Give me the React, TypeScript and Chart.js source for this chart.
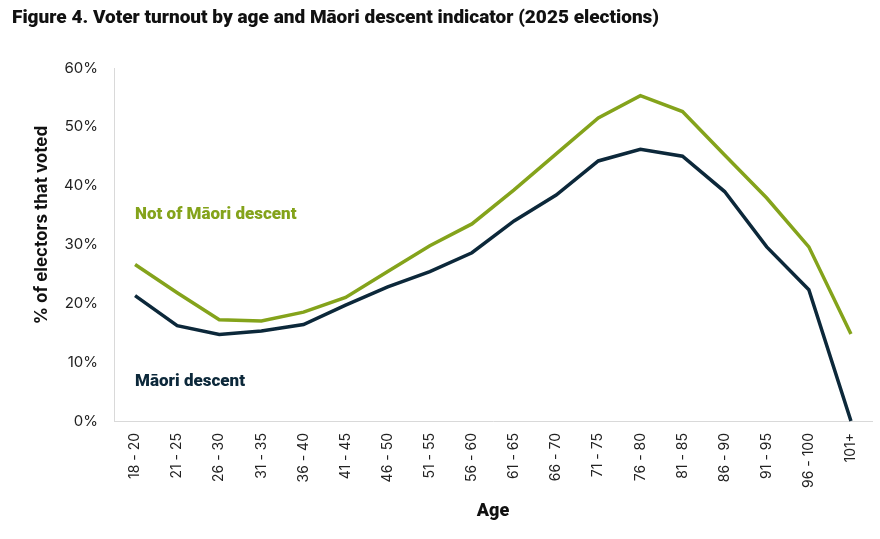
import { useEffect, useRef } from 'react';
import { Chart, registerables, type ChartConfiguration, type Plugin } from 'chart.js';

Chart.register(...registerables);

// ── Design tokens ──────────────────────────────────────────────────────────────

const C = {
  green:  '#84a31b',
  navy:   '#0c283a',
  text:   '#111111',
  tick:   '#222222',
  axis:   '#d9d9d9',
} as const;

// ── Data ───────────────────────────────────────────────────────────────────────

const AGE_GROUPS = [
  '18 - 20', '21 - 25', '26 - 30', '31 - 35', '36 - 40', '41 - 45',
  '46 - 50', '51 - 55', '56 - 60', '61 - 65', '66 - 70', '71 - 75',
  '76 - 80', '81 - 85', '86 - 90', '91 - 95', '96 - 100', '101+',
];

const NOT_MAORI = [
  26.6, 21.8, 17.2, 17.0, 18.5, 21.0, 25.4, 29.8, 33.5,
  39.3, 45.4, 51.5, 55.3, 52.6, 45.2, 37.9, 29.6, 14.8,
];

const MAORI = [
  21.3, 16.2, 14.7, 15.3, 16.4, 19.7, 22.8, 25.4, 28.6,
  34.0, 38.4, 44.2, 46.2, 45.0, 39.0, 29.6, 22.3, 0,
];

const SERIES_LABELS = ['Not of Māori descent', 'Māori descent'];
const SERIES_LABEL_Y = [35, 6.6]; // where the inline labels sit, in % units

const Y_TITLE = '% of electors that voted';

// ── Inline series labels + y-axis title ────────────────────────────────────────

const seriesLabels: Plugin<'line'> = {
  id: 'seriesLabels',
  afterDatasetsDraw(chart) {
    const { ctx, scales, chartArea } = chart;
    const x = scales.x.getPixelForValue(0);
    ctx.save();
    ctx.font = '900 17px Roboto';
    ctx.textAlign = 'left';
    ctx.textBaseline = 'middle';
    SERIES_LABELS.forEach((label, i) => {
      ctx.fillStyle = i === 0 ? C.green : C.navy;
      ctx.fillText(label, x, scales.y.getPixelForValue(SERIES_LABEL_Y[i]));
    });

    // y title sits a little above the middle of the plot, as in the original
    ctx.translate(42, chartArea.top + chartArea.height * 0.445);
    ctx.rotate(-Math.PI / 2);
    ctx.font = 'bold 17px Inter';
    ctx.textAlign = 'center';
    ctx.fillStyle = C.text;
    ctx.fillText(Y_TITLE, 0, 0);
    ctx.restore();
  },
};

// ── Main Component ─────────────────────────────────────────────────────────────

export default function App() {
  const canvasRef = useRef<HTMLCanvasElement>(null);

  useEffect(() => {
    const canvas = canvasRef.current;
    if (!canvas) return;

    const config: ChartConfiguration<'line'> = {
      type: 'line',
      data: {
        labels: AGE_GROUPS,
        datasets: [
          {
            label: SERIES_LABELS[0],
            data: NOT_MAORI,
            borderColor: C.green,
            borderWidth: 3.5,
            pointRadius: 0,
            tension: 0,
            clip: false,
          },
          {
            label: SERIES_LABELS[1],
            data: MAORI,
            borderColor: C.navy,
            borderWidth: 3.5,
            pointRadius: 0,
            tension: 0,
            clip: false,
          },
        ],
      },
      options: {
        responsive: true,
        maintainAspectRatio: false,
        animation: false,
        layout: { padding: { top: 0, right: 8, bottom: 0, left: 12 } },
        plugins: {
          legend: { display: false },
          tooltip: { enabled: false },
          title: {
            display: true,
            text: 'Figure 4. Voter turnout by age and Māori descent indicator (2025 elections)',
            align: 'start',
            color: C.text,
            font: { family: 'Roboto', weight: 900, size: 19, lineHeight: 1.2 },
            padding: { top: 7, bottom: 38.2 },
          },
        },
        scales: {
          x: {
            offset: true,
            grid: { display: false, drawTicks: false },
            border: { color: C.axis, width: 1 },
            ticks: {
              color: C.tick,
              font: { family: 'Inter', size: 14 },
              minRotation: 90,
              maxRotation: 90,
              padding: 12,
              autoSkip: false,
            },
            title: {
              display: true,
              text: 'Age',
              color: C.text,
              font: { family: 'Roboto', weight: 900, size: 18 },
              padding: { top: 0, bottom: 17 },
            },
            afterFit: (scale) => { scale.height = 118; },
          },
          y: {
            min: 0,
            max: 60,
            grid: { display: false, drawTicks: false },
            border: { color: C.axis, width: 1 },
            ticks: {
              stepSize: 10,
              color: C.tick,
              font: { family: 'Inter', size: 15 },
              padding: 16,
              callback: (v) => `${v}%`,
            },
            afterFit: (scale) => { scale.width = 102; },
          },
        },
      },
      plugins: [seriesLabels],
    };

    const chart = new Chart(canvas, config);
    return () => { chart.destroy(); };
  }, []);

  return (
    <div style={{ position: 'fixed', top: 0, left: 0, width: 880, height: 539, background: '#fff' }}>
      <canvas ref={canvasRef} />
    </div>
  );
}
